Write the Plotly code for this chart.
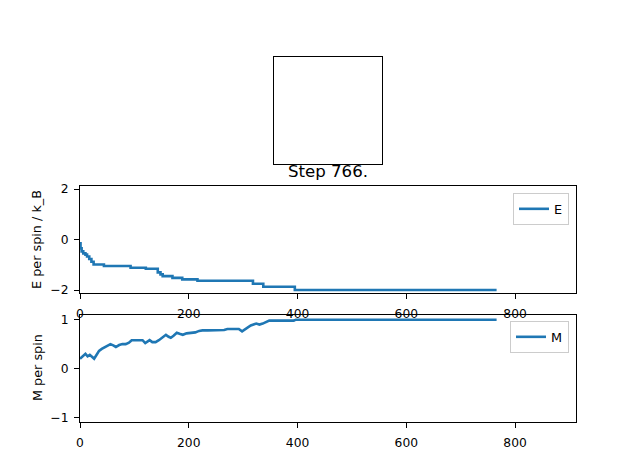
import plotly.graph_objects as go

# spin lattice at the final step (all aligned)
spins = [[1] * 12 for _ in range(12)]

step_label = 'Step 766.'

# energy per spin (step changes only, drawn as a step line)
e_steps = [0, 1, 3, 6, 10, 13, 17, 21, 25, 44, 93, 121, 143, 148, 152, 170, 188, 216, 318, 337, 395, 766]
e_values = [-0.15, -0.35, -0.47, -0.55, -0.6, -0.67, -0.77, -0.88, -0.99, -1.05, -1.12, -1.16, -1.3,
            -1.38, -1.45, -1.52, -1.58, -1.63, -1.75, -1.87, -2.0, -2.0]

# magnetisation per spin
m_steps = [0, 5, 10, 14, 18, 22, 26, 30, 35, 40, 47, 56, 62, 66, 72, 78, 84, 90, 95, 100, 115, 120,
           124, 128, 133, 139, 145, 152, 158, 163, 167, 172, 178, 183, 189, 196, 204, 212, 219, 225,
           235, 250, 265, 271, 285, 292, 298, 305, 314, 324, 330, 336, 348, 393, 397, 766]
m_values = [0.20, 0.26, 0.30, 0.25, 0.28, 0.24, 0.20, 0.27, 0.36, 0.40, 0.44, 0.50, 0.47, 0.44, 0.48,
            0.50, 0.50, 0.53, 0.58, 0.58, 0.58, 0.52, 0.56, 0.58, 0.54, 0.54, 0.58, 0.63, 0.69, 0.65,
            0.63, 0.67, 0.73, 0.71, 0.69, 0.72, 0.73, 0.74, 0.77, 0.78, 0.78, 0.78, 0.79, 0.81, 0.81,
            0.81, 0.76, 0.82, 0.88, 0.92, 0.90, 0.92, 0.98, 0.98, 1.00, 1.00]

# the page body has an 8px margin, so the figure is a bit smaller and shifted
OFF = 8
W, H = 640 - 2 * OFF, 474 - 2 * OFF
blue = '#1f77b4'
font = dict(family='DejaVu Sans', size=12.3, color='black')
label_font = dict(family='DejaVu Sans', size=12.8, color='black')


def px_x(p):
    return (p - OFF) / W


def px_y(p):
    return 1 - (p - OFF) / H


fig = go.Figure()
fig.add_trace(go.Heatmap(z=spins, zmin=-1, zmax=1, showscale=False,
                         colorscale=[[0, 'black'], [1, 'white']],
                         xaxis='x3', yaxis='y3', hoverinfo='skip'))
fig.add_trace(go.Scatter(x=e_steps, y=e_values, mode='lines', name='E', showlegend=True,
                         line=dict(color=blue, width=2.6, shape='hv'),
                         xaxis='x', yaxis='y', legend='legend'))
fig.add_trace(go.Scatter(x=m_steps, y=m_values, mode='lines', name='M', showlegend=True,
                         line=dict(color=blue, width=2.6),
                         xaxis='x2', yaxis='y2', legend='legend2'))

axis_style = dict(showline=True, linecolor='black', linewidth=1.1, mirror=True,
                  ticks='outside', ticklen=5, tickwidth=1.1, tickcolor='black',
                  showgrid=False, zeroline=False, tickfont=font, automargin=False)

fig.update_layout(
    width=W, height=H,
    margin=dict(l=0, r=0, t=0, b=0, autoexpand=False),
    paper_bgcolor='white', plot_bgcolor='white',
    font=font,
    showlegend=True,
    xaxis=dict(domain=[px_x(80), px_x(576)], range=[0, 912], tickvals=[0, 200, 400, 600, 800],
               anchor='y', ticklabelstandoff=4, **axis_style),
    yaxis=dict(domain=[px_y(293.3), px_y(186)], range=[-2.13, 2.12], tickvals=[-2, 0, 2],
               anchor='x', ticklabelstandoff=3, **axis_style),
    xaxis2=dict(domain=[px_x(80), px_x(576)], range=[0, 912], tickvals=[0, 200, 400, 600, 800],
                anchor='y2', ticklabelstandoff=4, **axis_style),
    yaxis2=dict(domain=[px_y(422.2), px_y(314.8)], range=[-1.1, 1.1], tickvals=[-1, 0, 1],
                anchor='x2', ticklabelstandoff=3, **axis_style),
    xaxis3=dict(domain=[px_x(274), px_x(381.5)], anchor='y3', showline=True, linecolor='black',
                linewidth=1.1, mirror=True, showticklabels=False, ticks='', showgrid=False,
                zeroline=False),
    yaxis3=dict(domain=[px_y(164.4), px_y(57)], anchor='x3', showline=True, linecolor='black',
                linewidth=1.1, mirror=True, showticklabels=False, ticks='', showgrid=False,
                zeroline=False),
    legend=dict(x=px_x(569), y=px_y(193), xanchor='right', yanchor='top', visible=True,
                bordercolor='#cccccc', borderwidth=1, bgcolor='white', font=label_font),
    legend2=dict(x=px_x(569), y=px_y(321), xanchor='right', yanchor='top', visible=True,
                 bordercolor='#cccccc', borderwidth=1, bgcolor='white', font=label_font),
    annotations=[
        dict(text=step_label, x=px_x(328), y=px_y(171), xref='paper', yref='paper',
             xanchor='center', yanchor='middle', showarrow=False,
             font=dict(family='DejaVu Sans', size=16.6, color='black')),
        dict(text='E per spin / k_B', x=px_x(37), y=px_y(240), xref='paper', yref='paper',
             xanchor='center', yanchor='middle', textangle=-90, showarrow=False, font=label_font),
        dict(text='M per spin', x=px_x(37), y=px_y(368), xref='paper', yref='paper',
             xanchor='center', yanchor='middle', textangle=-90, showarrow=False, font=label_font),
    ],
)

fig.write_html('out.html')
